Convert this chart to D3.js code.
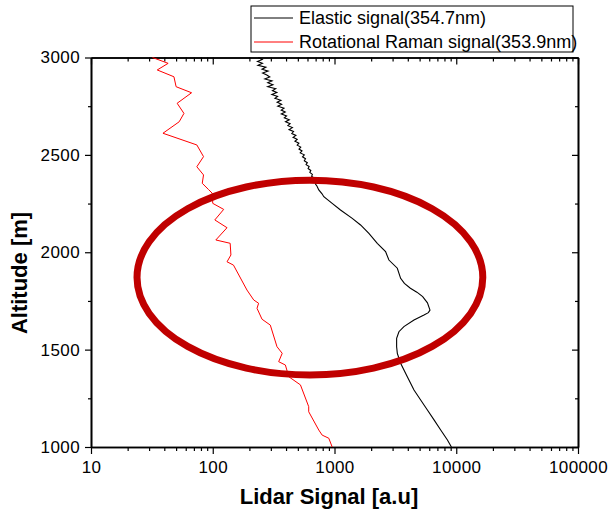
<!DOCTYPE html>
<html><head><meta charset="utf-8">
<script src="https://cdn.jsdelivr.net/npm/d3@7"></script>
<style>
body{margin:0;background:#fff}
text{font-family:"Liberation Sans",Arial,sans-serif}
</style>
</head><body>
<svg id="c" width="609" height="520"></svg>
<script>
// ---------- data ----------
const elasticAlt = [3000,2990,2980,2970,2960,2950,2940,2930,2920,2910,2900,2890,2880,2870,2860,2850,2840,2830,2820,2810,
  2800,2790,2780,2770,2760,2750,2740,2730,2720,2710,2700,2690,2680,2670,2660,2650,2640,2630,2620,2610,
  2600,2590,2580,2570,2560,2550,2540,2530,2520,2510,2500,2490,2480,2470,2460,2450,2440,2430,2420,2410,
  2400,2390,2380,2370,2360,2350,2340,
  2320,2300,2285,2251,2217,2174,2140,2097,2046,2003,1960,1918,1866,1840,1815,1795,1772,1740,1703,1690,1678,1652,1618,1592,1558,1515,1481,1430,1361,1293,1241,1190,1139,1087,1036,1000];
const elasticSig = [237,255,233,256,235,273,254,285,257,278,294,268,307,283,312,283,329,309,336,306,
  341,324,363,338,368,342,385,365,394,366,404,387,425,396,432,414,451,423,461,446,
  482,457,494,473,510,494,528,511,541,523,565,546,578,565,598,584,619,607,639,627,
  658,649,681,675,701,698,717,
  743,790,817,957,1120,1399,1637,1916,2246,2627,2799,3281,3492,3750,4200,4750,5300,5800,6085,5900,5433,4497,3716,3382,3238,3238,3281,3492,3963,4497,5102,5794,6568,7452,8464,9125];

const ramanAlt = [3000,2970,2936,2901,2850,2819,2765,2713,2670,2611,2551,2491,2439,2397,2354,2323,2303,2251,2220,2166,2126,2063,2046,1986,1951,1934,1806,1755,1738,1712,1656,1626,1515,1481,1438,1421,1361,1319,1207,1181,1087,1061,1045,1000];
const ramanSig = [32,43,35,48,50,67,51,58,53,39,74,84,74,84,82,92,99,100,123,104,131,106,139,141,131,148,191,217,238,231,254,297,337,372,348,395,421,525,614,614,743,792,898,957];

const xTicks = [10,100,1000,10000,100000];
const yTicks = [1000,1500,2000,2500,3000];
const yMinorTicks = [1250,1750,2250,2750];
const seriesNames = ["Elastic signal(354.7nm)","Rotational Raman signal(353.9nm)"];
const seriesColors = ["#000000","#ff0000"];
const xTitle = "Lidar  Signal  [a.u]";
const yTitle = "Altitude  [m]";
// highlighted region (data space): center signal, center altitude, half-width in decades, half-height in m
const markCenter = [628, 1870];
const markHalf = [1.42, 500];

// ---------- layout ----------
const W = 609, H = 520;
const m = {l:91, r:31, t:57.5, b:73};
const w = W - m.l - m.r, h = H - m.t - m.b;
const svg = d3.select("#c");
const g = svg.append("g").attr("transform",`translate(${m.l},${m.t})`);

const x = d3.scaleLog().domain([10,100000]).range([0,w]);
const y = d3.scaleLinear().domain([1000,3000]).range([h,0]);

const xMinor = [];
for (let d=10; d<100000; d*=10) for (let k=2;k<=9;k++) xMinor.push(k*d);

function styleAxis(sel){
  sel.select(".domain").attr("stroke","#000").attr("stroke-width",1.6);
  sel.selectAll(".tick line").attr("stroke","#000").attr("stroke-width",1.2);
  sel.selectAll(".tick text").attr("font-size",17).attr("fill","#000")
     .style("font-family","'Liberation Sans',Arial,sans-serif").attr("letter-spacing","0.4px");
}
// bottom
g.append("g").attr("transform",`translate(0,${h})`)
  .call(d3.axisBottom(x).tickValues(xMinor).tickSize(4).tickSizeOuter(0).tickFormat(""))
  .call(styleAxis);
g.append("g").attr("transform",`translate(0,${h})`)
  .call(d3.axisBottom(x).tickValues(xTicks).tickSize(7).tickSizeOuter(0).tickPadding(7).tickFormat(d3.format("d")))
  .call(styleAxis);
// top (inward)
g.append("g").call(d3.axisTop(x).tickValues(xMinor).tickSize(-4).tickSizeOuter(0).tickFormat("")).call(styleAxis);
g.append("g").call(d3.axisTop(x).tickValues(xTicks).tickSize(-7).tickSizeOuter(0).tickFormat("")).call(styleAxis);
// left
g.append("g").call(d3.axisLeft(y).tickValues(yMinorTicks).tickSize(3).tickSizeOuter(0).tickFormat("")).call(styleAxis);
g.append("g").call(d3.axisLeft(y).tickValues(yTicks).tickSize(6).tickSizeOuter(0).tickPadding(5).tickFormat(d3.format("d"))).call(styleAxis);
// right (inward)
g.append("g").attr("transform",`translate(${w},0)`)
  .call(d3.axisRight(y).tickValues(yMinorTicks).tickSize(-3).tickSizeOuter(0).tickFormat("")).call(styleAxis);
g.append("g").attr("transform",`translate(${w},0)`)
  .call(d3.axisRight(y).tickValues(yTicks).tickSize(-6).tickSizeOuter(0).tickFormat("")).call(styleAxis);

// lines
const line = d3.line().x(d=>x(d[0])).y(d=>y(d[1]));
const elastic = elasticSig.map((v,i)=>[v,elasticAlt[i]]);
const raman = ramanSig.map((v,i)=>[v,ramanAlt[i]]);
g.append("path").datum(raman).attr("d",line).attr("fill","none").attr("stroke",seriesColors[1]).attr("stroke-width",1);
g.append("path").datum(elastic).attr("d",line).attr("fill","none").attr("stroke",seriesColors[0]).attr("stroke-width",1.1);

// highlight ellipse
const ecx = x(markCenter[0]), ecy = y(markCenter[1]);
const erx = x(markCenter[0]*Math.pow(10,markHalf[0])) - ecx;
const ery = y(markCenter[1]-markHalf[1]) - ecy;
g.append("ellipse").attr("cx",ecx).attr("cy",ecy).attr("rx",erx).attr("ry",ery)
  .attr("fill","none").attr("stroke","#c00000").attr("stroke-width",7);

// titles
svg.append("text").attr("x",329).attr("y",504).attr("text-anchor","middle")
  .attr("font-size",22).attr("font-weight","bold").attr("fill","#000").text(xTitle);
svg.append("text").attr("transform","translate(27,273) rotate(-90)").attr("text-anchor","middle")
  .attr("font-size",22).attr("font-weight","bold").attr("fill","#000").text(yTitle);

// legend
const lg = svg.append("g");
lg.append("rect").attr("x",251).attr("y",6).attr("width",322).attr("height",46)
  .attr("fill","#fff").attr("stroke","#000").attr("stroke-width",1);
seriesNames.forEach((s,i)=>{
  const yy = 18 + i*24;
  lg.append("line").attr("x1",254).attr("x2",293).attr("y1",yy).attr("y2",yy)
    .attr("stroke",seriesColors[i]).attr("stroke-width",1);
  lg.append("text").attr("x",299).attr("y",yy).attr("dy","0.36em")
    .attr("font-size",18).attr("fill","#000").text(s);
});
</script>
</body></html>
